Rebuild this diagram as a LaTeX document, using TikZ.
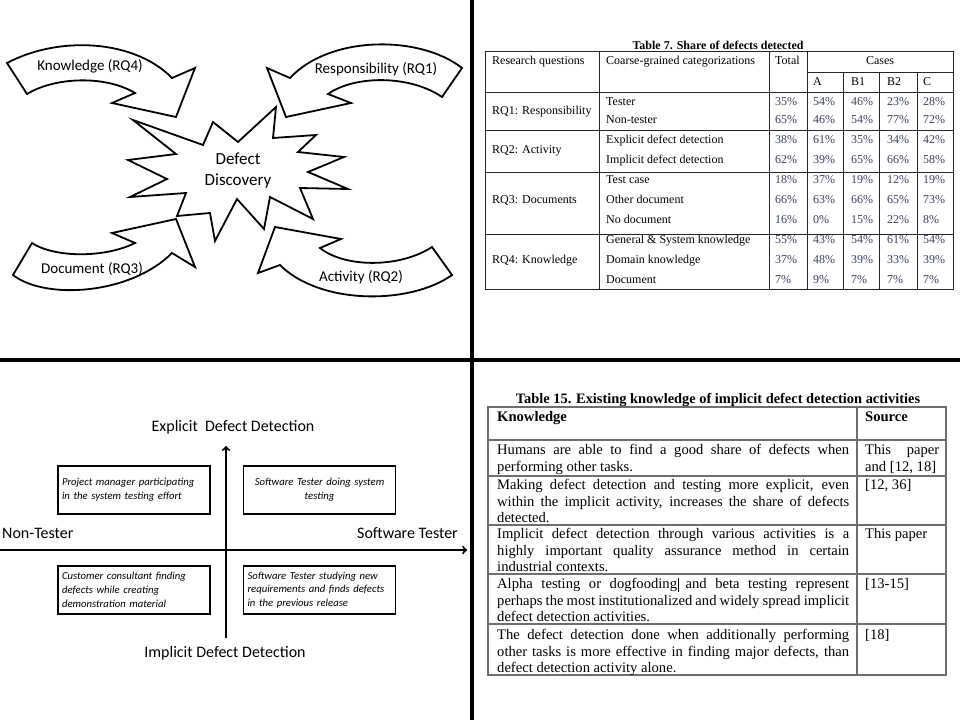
\documentclass[tikz,border=0pt]{standalone}
\usepackage{fontspec}
\setmainfont{Liberation Serif}
\newfontfamily\calib{Carlito}
\usetikzlibrary{positioning}
\hbadness=10000
\definecolor{numgray}{RGB}{60,64,92}
\definecolor{rulegray}{RGB}{110,110,110}

\tikzset{
  shapeline/.style={draw=black, line width=1.8pt, line join=miter, fill=white},
  divider/.style={line width=4.5pt},
  arrowlabel/.style={font=\calib\fontsize{15}{18}\selectfont, inner sep=0},
  axislabel/.style={font=\calib\fontsize{16}{19}\selectfont, inner sep=0},
  quadbox/.style={draw, line width=1.8pt, minimum width=152pt, minimum height=48pt,
    text width=144pt, inner sep=0, font=\calib\itshape\fontsize{10.7}{13.8}\selectfont},
  cell/.style={anchor=base west, inner sep=0, font=\fontsize{12}{14}\selectfont},
  numcell/.style={cell, text=numgray},
  tabrule/.style={draw=black!85, line width=0.9pt},
  kcell/.style={anchor=north west, inner sep=0, align=justify,
    font=\fontsize{14.6}{16.5}\selectfont},
  krule/.style={draw=rulegray, line width=1.1pt}
}

\begin{document}
\begin{tikzpicture}[x=1pt,y=-1pt]
\useasboundingbox (0,0) rectangle (960,720);

% quadrant dividers
\draw[divider] (472,0) -- (472,720);
\draw[divider] (0,360) -- (960,360);

% ---- defect discovery with four arrows
\draw[shapeline] (7,63) .. controls (60,35) and (135,40) .. (172,78) -- (195,68)
  -- (176,117) -- (112,103) -- (135,93) .. controls (105,75) and (55,77) .. (27,94) -- cycle;
\node[arrowlabel] (rq4) at (90,66) {Knowledge (RQ4)};

\draw[shapeline] (462,68) .. controls (420,35) and (330,35) .. (290,78) -- (267,68)
  -- (286,117) -- (351,103) -- (328,94) .. controls (355,75) and (410,75) .. (442,97) -- cycle;
\node[arrowlabel] (rq1) at (376,69) {Responsibility (RQ1)};

\draw[shapeline] (32,243) .. controls (55,258) and (105,258) .. (135,243) -- (112,233)
  -- (176,219) -- (195,267) -- (172,253) .. controls (130,295) and (45,300) .. (13,275) -- cycle;
\node[arrowlabel] (rq3) at (92,269) {Document (RQ3)};

\draw[shapeline] (432,247) .. controls (400,268) and (345,268) .. (320,248) -- (341,239)
  -- (275,227) -- (258,273) -- (280,265) .. controls (320,305) and (410,305) .. (452,275) -- cycle;
\node[arrowlabel] (rq2) at (361,277) {Activity (RQ2)};

\draw[shapeline] (133,120) -- (203,145) -- (213,122) -- (238,142) -- (276,107) -- (273,138)
  -- (316,135) -- (298,152) -- (344,157) -- (308,172) -- (348,189) -- (300,188)
  -- (313,219) -- (270,197) -- (264,229) -- (237,199) -- (215,241) -- (210,213)
  -- (177,216) -- (186,193) -- (130,197) -- (167,179) -- (128,160) -- (176,154) -- cycle;
\node[font=\calib\fontsize{17}{21}\selectfont, align=center, inner sep=0] (defect) at (238,171) {Defect\\Discovery};

% ---- table 7
\node[font=\bfseries\fontsize{12}{14}\selectfont, inner sep=0] (tab7) at (718,45) {Table 7. Share of defects detected};
\draw[tabrule] (485,51) rectangle (953,289);
\foreach \yy in {92,130,172,234} {
  \draw[tabrule] (485,\yy) -- (953,\yy);
}
\draw[tabrule] (807,72) -- (953,72);
\foreach \xx in {599,769,807} {
  \draw[tabrule] (\xx,51) -- (\xx,289);
}
\foreach \xx in {843,879,917} {
  \draw[tabrule] (\xx,72) -- (\xx,289);
}
\node[cell] (hrq) at (492,64) {Research questions};
\node[cell] (hcat) at (606,64) {Coarse-grained categorizations};
\node[cell] (htot) at (775,64) {Total};
\node[cell, anchor=base] (hcases) at (880,64) {Cases};
\node[cell] (ha) at (813,85) {A};
\node[cell] (hb) at (851,85) {B1};
\node[cell] (hc) at (887,85) {B2};
\node[cell] (hd) at (923,85) {C};
\node[cell] (rq1row) at (492,114) {RQ1: Responsibility};
\node[cell] (rq2row) at (492,153) {RQ2: Activity};
\node[cell] (rq3row) at (492,203) {RQ3: Documents};
\node[cell] (rq4row) at (492,263) {RQ4: Knowledge};
\foreach \yy/\cat/\tot/\pa/\pb/\pc/\pd in {
  105/Tester/35/54/46/23/28,
  123/Non-tester/65/46/54/77/72,
  143/Explicit defect detection/38/61/35/34/42,
  163/Implicit defect detection/62/39/65/66/58,
  183/Test case/18/37/19/12/19,
  203/Other document/66/63/66/65/73,
  223/No document/16/0/15/22/8,
  243/General \& System knowledge/55/43/54/61/54,
  263/Domain knowledge/37/48/39/33/39,
  283/Document/7/9/7/7/7} {
  \node[cell] (cat\yy) at (606,\yy) {\cat};
  \node[numcell] (tot\yy) at (775,\yy) {\tot\%};
  \node[numcell] (ca\yy) at (813,\yy) {\pa\%};
  \node[numcell] (cb\yy) at (851,\yy) {\pb\%};
  \node[numcell] (cc\yy) at (887,\yy) {\pc\%};
  \node[numcell] (cd\yy) at (923,\yy) {\pd\%};
}

% ---- explicit / implicit quadrants
\draw[->, line width=2pt] (226,638) -- (226,446);
\draw[->, line width=2pt] (0,550) -- (467,550);
\node[axislabel] (expl) at (233,427) {Explicit\ \ Defect Detection};
\node[axislabel] (impl) at (225,653) {Implicit Defect Detection};
\node[axislabel, anchor=west] (nontester) at (2,533) {Non-Tester};
\node[axislabel, anchor=east] (swtester) at (458,533) {Software Tester};
\node[quadbox, align=left] (pm) at (134,490) {Project manager participating\\in the system testing effort};
\node[quadbox, align=center] (st) at (319.5,490) {Software Tester doing system\\testing};
\node[quadbox, align=left] (cc) at (134,590) {Customer consultant finding\\defects while creating\\demonstration material};
\node[quadbox, align=left] (sr) at (319.5,590) {Software Tester studying new\\requirements and finds defects\\in the previous release};

% ---- table 15
\node[font=\bfseries\fontsize{14.4}{17}\selectfont, inner sep=0] (tab15) at (718,400) {Table 15. Existing knowledge of implicit defect detection activities};
\draw[krule] (488,407) rectangle (946,675);
\foreach \yy in {440,476,525,574,624} {
  \draw[krule] (488,\yy) -- (946,\yy);
}
\draw[krule] (857,407) -- (857,675);
\node[kcell, text width=352pt] (khead) at (497,409.8) {\strut\textbf{Knowledge}};
\node[kcell, text width=76pt] (shead) at (865,409.8) {\strut\textbf{Source}};
\node[kcell, text width=352pt] (k1) at (497,442.8) {\strut Humans are able to find a good share of defects when\linebreak performing other tasks.};
\node[kcell, text width=74pt] (s1) at (865,442.8) {\strut This paper\linebreak and [12, 18]};
\node[kcell, text width=352pt] (k2) at (497,477.8) {\strut Making defect detection and testing more explicit, even\linebreak within the implicit activity, increases the share of defects\linebreak detected.};
\node[kcell, text width=74pt] (s2) at (865,477.8) {\strut [12, 36]};
\node[kcell, text width=352pt] (k3) at (497,526.8) {\strut Implicit defect detection through various activities is a\linebreak highly important quality assurance method in certain\linebreak industrial contexts.};
\node[kcell, text width=74pt] (s3) at (865,526.8) {\strut This paper};
\node[kcell, text width=352pt] (k4) at (497,576.8) {\strut Alpha testing or dogfooding\rlap{\hspace{0.5pt}\rule[-3pt]{0.7pt}{14pt}} and beta testing represent\linebreak perhaps the most institutionalized and widely spread implicit\linebreak defect detection activities.};
\node[kcell, text width=74pt] (s4) at (865,576.8) {\strut [13-15]};
\node[kcell, text width=352pt] (k5) at (497,627.8) {\strut The defect detection done when additionally performing\linebreak other tasks is more effective in finding major defects, than\linebreak defect detection activity alone.};
\node[kcell, text width=74pt] (s5) at (865,627.8) {\strut [18]};
\end{tikzpicture}
\end{document}
